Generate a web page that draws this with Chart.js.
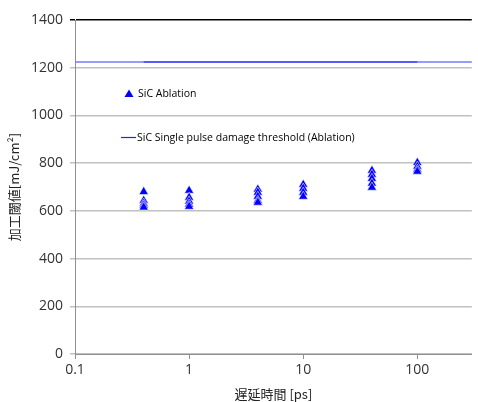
<!DOCTYPE html>
<html><head><meta charset="utf-8">
<script src="https://cdn.jsdelivr.net/npm/chart.js@4/dist/chart.umd.min.js"></script>
<style>html,body{margin:0;padding:0;background:#fff}#wrap{width:478px;height:402px}</style>
</head><body><div id="wrap"><canvas id="c" width="478" height="402"></canvas></div>
<script>
const delays = [0.4, 1, 4, 10, 40, 100];
const ablation04 = [680, 643, 631, 623, 615];
const ablation1 = [685, 656, 640, 627, 618];
const ablation4 = [690, 677, 660, 643, 635];
const ablation10 = [710, 694, 677, 660];
const ablation40 = [769, 752, 735, 715, 698];
const ablation100 = [802, 786, 773, 765];
const ablationGroups = [ablation04, ablation1, ablation4, ablation10, ablation40, ablation100];
const thresholdValue = 1224;
const thresholdX = [0.4, 100];
const thresholdFullX = [0.1, 300];
const xTicks = [0.1, 1, 10, 100];
const yTicks = [0, 200, 400, 600, 800, 1000, 1200, 1400];
const legendLabels = ['SiC Ablation', 'SiC Single pulse damage threshold (Ablation)'];

const scatterPts = [];
ablationGroups.forEach((g, i) => g.forEach(v => scatterPts.push({x: delays[i], y: v})));

const legendPlugin = {
  id: 'inlegend',
  afterDraw(chart) {
    const c = chart.ctx;
    c.save();
    c.font = '10.5px "Open Sans"';
    c.textBaseline = 'middle';
    c.fillStyle = '#0000ff';
    c.beginPath();
    c.moveTo(129, 89.5); c.lineTo(133.5, 97); c.lineTo(124.5, 97); c.closePath(); c.fill();
    c.fillStyle = '#000';
    c.fillText(legendLabels[0], 138, 94);
    c.strokeStyle = '#2020ff'; c.lineWidth = 1.2;
    c.beginPath(); c.moveTo(121, 137.5); c.lineTo(136, 137.5); c.stroke();
    c.fillText(legendLabels[1], 137, 138);
    c.restore();
  }
};

new Chart(document.getElementById('c'), {
  type: 'scatter',
  data: {
    datasets: [
      {
        label: 'thrFull', showLine: true, clip: false,
        data: thresholdFullX.map(x => ({x, y: thresholdValue})),
        borderColor: '#7777ff', borderWidth: 1.3, pointRadius: 0, fill: false
      },
      {
        label: legendLabels[1], showLine: true,
        data: thresholdX.map(x => ({x, y: thresholdValue})),
        borderColor: '#0000ff', borderWidth: 1.8, pointRadius: 0, fill: false
      },
      {
        label: legendLabels[0],
        data: scatterPts,
        pointStyle: 'triangle', pointRadius: 5.4,
        backgroundColor: '#0000ff', borderColor: 'rgba(255,255,255,0.7)', borderWidth: 0.8
      }
    ]
  },
  options: {
    responsive: false, animation: false,
    layout: {padding: {top: 20, right: 0, left: 0, bottom: 0}},
    plugins: {legend: {display: false}, tooltip: {enabled: false}},
    scales: {
      x: {
        type: 'logarithmic', min: 0.1, max: 300,
        afterBuildTicks: s => { s.ticks = xTicks.map(v => ({value: v})); },
        afterFit: s => { s.height = 48; },
        grid: {display: true, drawOnChartArea: false, tickLength: 5, color: '#909090'},
        border: {color: '#909090', width: 1},
        ticks: {font: {family: '"Open Sans"', size: 14}, color: '#333', padding: 3,
          callback: v => String(v), maxRotation: 0, autoSkip: false},
        title: {display: true, text: '遅延時間 [ps]', font: {family: '"Noto Sans CJK JP"', size: 13}, color: '#222', padding: {top: 1, bottom: 0}}
      },
      y: {
        min: 0, max: 1400,
        afterBuildTicks: s => { s.ticks = yTicks.map(v => ({value: v})); },
        afterFit: s => { s.width = 75; },
        grid: {
          color: ctx => (ctx.tick && ctx.tick.value === 1400) ? '#000' : '#c0c0c0',
          lineWidth: 1.5,
          tickLength: 5
        },
        border: {color: '#909090', width: 1},
        ticks: {font: {family: '"Open Sans"', size: 14}, color: '#333', padding: 7,
          callback: v => String(v)},
        title: {display: true, text: '加工閾値[mJ/cm²]', font: {family: '"Noto Sans CJK JP"', size: 13}, color: '#222', padding: {top: 6, bottom: 2}}
      }
    }
  },
  plugins: [legendPlugin]
});
</script></body></html>
